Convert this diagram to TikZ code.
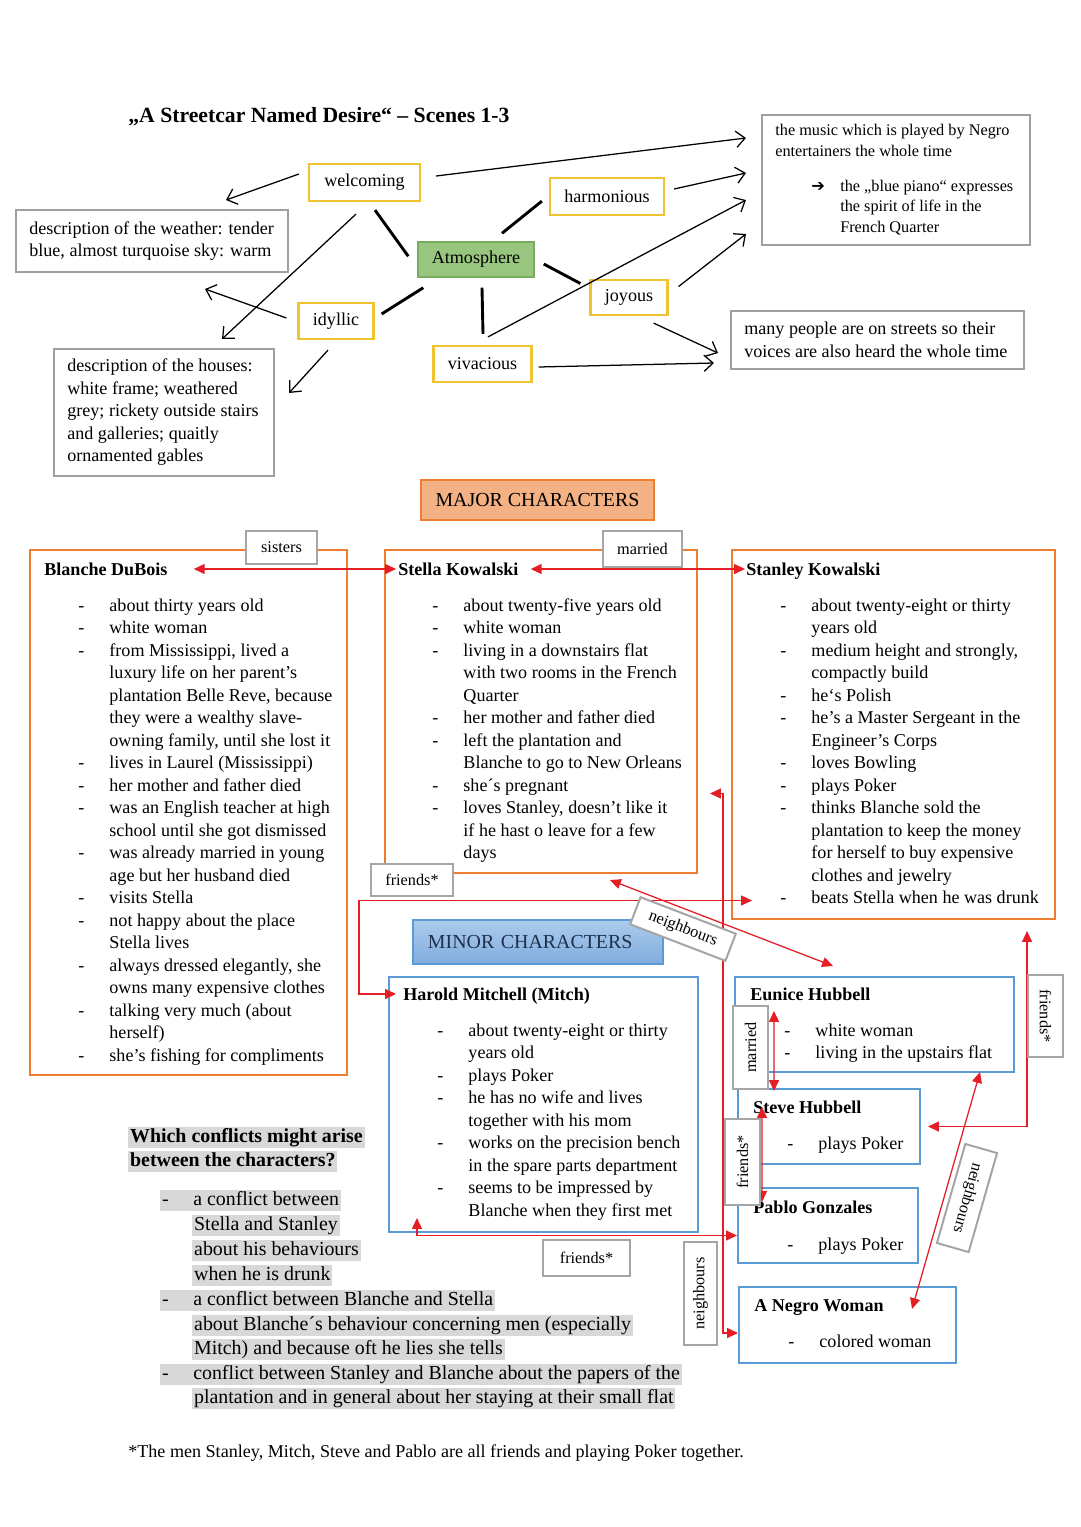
\documentclass[tikz,border=0pt]{standalone}
\usepackage{fontspec}
\setmainfont{Liberation Serif}
\newfontfamily\symbolfont{DejaVu Sans}
\usetikzlibrary{arrows.meta,calc}

\definecolor{adjgold}{RGB}{240,195,50}
\definecolor{atmofill}{RGB}{152,198,126}
\definecolor{atmoline}{RGB}{120,172,95}
\definecolor{boxgray}{RGB}{160,160,160}
\definecolor{taggray}{RGB}{165,165,165}
\definecolor{majorline}{RGB}{237,125,49}
\definecolor{majorfill}{RGB}{244,177,131}
\definecolor{minorline}{RGB}{91,155,213}
\definecolor{minortop}{RGB}{172,204,236}
\definecolor{minorbot}{RGB}{128,172,222}
\definecolor{minortext}{RGB}{30,48,78}
\definecolor{relred}{RGB}{228,30,36}
\definecolor{hlgray}{RGB}{216,216,216}

\newcommand{\charitems}[1]{\begin{tabular}[t]{@{}p{17.2pt}@{}l@{}}#1\end{tabular}}

\tikzset{
  boxsize/.style 2 args={minimum width=#1*0.5532pt, minimum height=#2*0.5532pt},
  adjective/.style={draw=adjgold, line width=1.2pt, inner sep=0pt, font=\fontsize{10}{12}\selectfont},
  atmos/.style={draw=atmoline, fill=atmofill, line width=0.8pt, inner sep=0pt, font=\fontsize{10}{12}\selectfont},
  infobox/.style={draw=boxgray, line width=1.1pt, inner sep=0pt},
  infotext/.style={anchor=west, inner sep=0pt, align=left, font=\fontsize{10}{12.45}\selectfont},
  link/.style={line width=1.6pt},
  pointer/.style={line width=0.7pt, -{Straight Barb[length=5pt,width=9pt]}},
  majorbox/.style={draw=majorline, line width=1.1pt},
  minorbox/.style={draw=minorline, line width=1.1pt},
  charname/.style={anchor=base west, inner sep=0pt, font=\fontsize{10}{12}\selectfont\bfseries},
  charlist/.style={anchor=base west, inner sep=0pt, font=\fontsize{10}{12.45}\selectfont},
  tag/.style={draw=taggray, line width=1.1pt, fill=white, inner sep=0pt, font=\fontsize{9}{11}\selectfont},
  rel/.style={draw=relred, line width=0.7pt, {Triangle[length=6pt,width=5.5pt]}-{Triangle[length=6pt,width=5.5pt]}},
  hl/.style={fill=hlgray, anchor=base west, inner xsep=1pt, inner ysep=0pt, text height=8.3pt, text depth=3.3pt, font=\fontsize{11}{13}\selectfont},
}

\begin{document}
\begin{tikzpicture}[x=0.019444cm, y=-0.019444cm]
  \path[use as bounding box, fill=white] (0,0) rectangle (1080,1527);

  % Title
  \node[anchor=base west, inner sep=0pt, font=\fontsize{12}{14}\selectfont\bfseries] (title) at (128,122) {„A Streetcar Named Desire“ – Scenes 1-3};

  % Atmosphere and its adjectives
  \node[atmos, boxsize={116}{35}] (atmo) at (476,259.5) {Atmosphere};
  \node[adjective, boxsize={111}{37}] (welcoming) at (364.5,182.5) {welcoming};
  \node[adjective, boxsize={114}{37}] (harmonious) at (607,196.5) {harmonious};
  \node[adjective, boxsize={77}{35}] (joyous) at (629,297.5) {joyous};
  \node[adjective, boxsize={75}{36}] (idyllic) at (336,321) {idyllic};
  \node[adjective, boxsize={98}{36}] (vivacious) at (482.5,364) {vivacious};

  % Descriptions
  \node[infobox, boxsize={272}{62}] (weather) at (152,241) {};
  \node[infotext] (weatherText) at ($(weather.west)+(14,0)$) {description of the weather: tender\\blue, almost turquoise sky: warm};
  \node[infobox, boxsize={220}{127}] (houses) at (164,412.5) {};
  \node[infotext] (housesText) at ($(houses.west)+(14,0)$) {description of the houses:\\white frame; weathered\\grey; rickety outside stairs\\and galleries; quaitly\\ornamented gables};
  \node[infobox, boxsize={268}{130}] (music) at (896,180) {};
  \node[infotext, font=\fontsize{9}{11.5}\selectfont] (musicText) at ($(music.west)+(14,0)$) {\begin{tabular}{@{}p{19.9pt}@{}p{16pt}@{}l@{}}
    \multicolumn{3}{@{}l@{}}{the music which is played by Negro}\\
    \multicolumn{3}{@{}l@{}}{entertainers the whole time}\\[7.7pt]
    & {\symbolfont ➔} & the „blue piano“ expresses\\
    & & the spirit of life in the\\
    & & French Quarter
  \end{tabular}};
  \node[infobox, boxsize={293}{58}] (people) at (877.5,340) {};
  \node[infotext] (peopleText) at ($(people.west)+(14,0)$) {many people are on streets so their\\voices are also heard the whole time};

  % Links to the atmosphere
  \draw[link] ($(welcoming.south)+(10.5,8)$) -- ($(atmo.north west)+(-9,15)$);
  \draw[link] ($(atmo.north)+(26,-8)$) -- ($(harmonious.south west)+(-7,-15)$);
  \draw[link] ($(atmo.east)+(9,4.5)$) -- ($(joyous.west)+(-9,-14)$);
  \draw[link] ($(atmo.south west)+(6,10)$) -- ($(idyllic.east)+(7,-7)$);
  \draw[link] ($(atmo.south)+(6,10)$) -- ($(vivacious.north)+(0.5,-11)$);

  % Arrows to the descriptions
  \draw[pointer] ($(welcoming.west)+(-9,-8.5)$) -- ($(weather.north east)+(-63,-9)$);
  \draw[pointer] ($(welcoming.south)+(-8.5,12)$) -- ($(houses.north east)+(-53,-9)$);
  \draw[pointer] ($(welcoming.east)+(15,-6.5)$) -- ($(music.west)+(-15,-42)$);
  \draw[pointer] ($(harmonious.east)+(9,-7.5)$) -- ($(music.west)+(-15,-7)$);
  \draw[pointer] ($(vivacious.north)+(5.5,-8)$) -- ($(music.west)+(-15,20)$);
  \draw[pointer] ($(joyous.east)+(10,-11)$) -- ($(music.west)+(-15,54)$);
  \draw[pointer] ($(joyous.south east)+(-15,7)$) -- ($(people.west)+(-12,13)$);
  \draw[pointer] ($(vivacious.east)+(6,3)$) -- ($(people.west)+(-16,23)$);
  \draw[pointer] ($(idyllic.west)+(-11,-3)$) -- ($(weather.south)+(53,16)$);
  \draw[pointer] ($(idyllic.south)+(-8,10)$) -- ($(houses.east)+(14,-19.5)$);

  % Major characters
  \node[majorbox, fill=majorfill, line width=0.6pt, boxsize={233}{40}, font=\fontsize{11}{13}\selectfont] (major) at (537.5,500) {MAJOR CHARACTERS};
  \node[majorbox, boxsize={317}{525}] (blanche) at (188.5,812.5) {};
  \node[majorbox, boxsize={312}{323}] (stella) at (541,711.5) {};
  \node[majorbox, boxsize={323}{369}] (stanley) at (893.5,734.5) {};

  \node[charname] (blancheName) at (44,575) {Blanche DuBois};
  \node[charlist] (blancheList) at (78,611) {\charitems{
    - & about thirty years old\\
    - & white woman\\
    - & from Mississippi, lived a\\
      & luxury life on her parent’s\\
      & plantation Belle Reve, because\\
      & they were a wealthy slave-\\
      & owning family, until she lost it\\
    - & lives in Laurel (Mississippi)\\
    - & her mother and father died\\
    - & was an English teacher at high\\
      & school until she got dismissed\\
    - & was already married in young\\
      & age but her husband died\\
    - & visits Stella\\
    - & not happy about the place\\
      & Stella lives\\
    - & always dressed elegantly, she\\
      & owns many expensive clothes\\
    - & talking very much (about\\
      & herself)\\
    - & she’s fishing for compliments}};

  \node[charname] (stellaName) at (398,575) {Stella Kowalski};
  \node[charlist] (stellaList) at (432,611) {\charitems{
    - & about twenty-five years old\\
    - & white woman\\
    - & living in a downstairs flat\\
      & with two rooms in the French\\
      & Quarter\\
    - & her mother and father died\\
    - & left the plantation and\\
      & Blanche to go to New Orleans\\
    - & she´s pregnant\\
    - & loves Stanley, doesn’t like it\\
      & if he hast o leave for a few\\
      & days}};

  \node[charname] (stanleyName) at (746,575) {Stanley Kowalski};
  \node[charlist] (stanleyList) at (780,611) {\charitems{
    - & about twenty-eight or thirty\\
      & years old\\
    - & medium height and strongly,\\
      & compactly build\\
    - & he‘s Polish\\
    - & he’s a Master Sergeant in the\\
      & Engineer’s Corps\\
    - & loves Bowling\\
    - & plays Poker\\
    - & thinks Blanche sold the\\
      & plantation to keep the money\\
      & for herself to buy expensive\\
      & clothes and jewelry\\
    - & beats Stella when he was drunk}};

  % Minor characters
  \node[minorbox, top color=minortop, bottom color=minorbot, draw=minorline, line width=0.6pt, boxsize={250}{44}, text width=121.7pt, align=left, text=minortext, font=\fontsize{11}{13}\selectfont] (minor) at (538,942) {MINOR CHARACTERS};
  \node[minorbox, boxsize={309}{255}] (mitch) at (543.5,1104.5) {};
  \node[minorbox, boxsize={279}{95}] (eunice) at (874.5,1024.5) {};
  \node[minorbox, boxsize={182}{75}] (steve) at (829,1126.5) {};
  \node[minorbox, boxsize={180}{75}] (pablo) at (828,1225.5) {};
  \node[minorbox, boxsize={217}{76}] (negro) at (847.5,1325) {};

  \node[charname] (mitchName) at (403,1000) {Harold Mitchell (Mitch)};
  \node[charlist] (mitchList) at (437,1036) {\charitems{
    - & about twenty-eight or thirty\\
      & years old\\
    - & plays Poker\\
    - & he has no wife and lives\\
      & together with his mom\\
    - & works on the precision bench\\
      & in the spare parts department\\
    - & seems to be impressed by\\
      & Blanche when they first met}};
  \node[charname] (euniceName) at (750,1000) {Eunice Hubbell};
  \node[charlist] (euniceList) at (784,1036) {\charitems{
    - & white woman\\
    - & living in the upstairs flat}};
  \node[charname] (steveName) at (753,1113) {Steve Hubbell};
  \node[charlist] (steveList) at (787,1149) {\charitems{- & plays Poker}};
  \node[charname] (pabloName) at (753,1213) {Pablo Gonzales};
  \node[charlist] (pabloList) at (787,1250) {\charitems{- & plays Poker}};
  \node[charname] (negroName) at (754,1311) {A Negro Woman};
  \node[charlist] (negroList) at (788,1347) {\charitems{- & colored woman}};

  % Relations
  \draw[rel] ($(blancheName.base east)+(26,-6)$) -- ($(stellaName.base west)+(-2,-6)$);
  \draw[rel] ($(stellaName.base east)+(12,-6)$) -- ($(stanleyName.base west)+(-1,-6)$);
  \draw[rel] ($(stella.east)+(12,82)$) -- ++(13,0) |- ($(negro.west)+(0,8)$);
  \draw[rel] ($(mitchName.base west)+(-7,-6)$) -- ++(-37,0) |- ($(stanley.west)+(21,166)$);
  \draw[rel] ($(stella.south)+(69,6)$) -- ($(eunice.north)+(-41.5,-10)$);
  \draw[rel] ($(eunice.south west)+(40,-62)$) -- ($(steve.north west)+(37,3)$);
  \draw[rel] ($(steve.north west)+(25,19)$) -- ($(pablo.north west)+(25,15)$);
  \draw[rel] ($(stanley.south east)+(-29,11)$) |- ($(steve.east)+(7,0)$);
  \draw[rel] ($(mitch.south west)+(29,-15)$) |- ($(pablo.west)+(0,10)$);
  \draw[rel] ($(eunice.south east)+(-35,-1)$) -- ($(negro.north east)+(-45,23)$);

  % Relation labels
  \node[tag, boxsize={71}{33}] (sisters) at (281.5,547.5) {sisters};
  \node[tag, boxsize={79}{36}] (marriedKowalski) at (642.5,549) {married};
  \node[tag, boxsize={82}{32}] (friendsMitch) at (412,880) {friends*};
  \node[tag, boxsize={102}{29}, rotate=-21] (neighEunice) at (683,929) {neighbours};
  \node[tag, boxsize={83}{35}, rotate=90] (marriedHubbell) at (750.5,1047.5) {married};
  \node[tag, boxsize={86}{35}, rotate=90] (friendsSteve) at (742.5,1162) {friends*};
  \node[tag, boxsize={82}{35}, rotate=-90] (friendsStanley) at (1045.5,1016) {friends*};
  \node[tag, boxsize={103}{33}, rotate=-106] (neighNegro) at (967,1198) {neighbours};
  \node[tag, boxsize={87}{36}] (friendsPablo) at (586.5,1258) {friends*};
  \node[tag, boxsize={103}{33}, rotate=90] (neighStella) at (700.5,1293.5) {neighbours};

  % Conflicts
  \node[hl, font=\fontsize{11}{13}\selectfont\bfseries] (question1) at (128,1142) {Which conflicts might arise};
  \node[hl, font=\fontsize{11}{13}\selectfont\bfseries] (question2) at (128,1166) {between the characters?};
  \node[hl] (conflict1) at (160,1205) {\makebox[17.2pt][l]{-}a conflict between};
  \node[hl] (conflict1b) at (192,1230) {Stella and Stanley};
  \node[hl] (conflict1c) at (192,1255) {about his behaviours};
  \node[hl] (conflict1d) at (192,1280) {when he is drunk};
  \node[hl] (conflict2) at (160,1305) {\makebox[17.2pt][l]{-}a conflict between Blanche and Stella};
  \node[hl] (conflict2b) at (192,1330) {about Blanche´s behaviour concerning men (especially};
  \node[hl] (conflict2c) at (192,1354) {Mitch) and because oft he lies she tells};
  \node[hl] (conflict3) at (160,1379) {\makebox[17.2pt][l]{-}conflict between Stanley and Blanche about the papers of the};
  \node[hl] (conflict3b) at (192,1403) {plantation and in general about her staying at their small flat};

  % Footnote
  \node[anchor=base west, inner sep=0pt, font=\fontsize{10}{12}\selectfont] (footnote) at (128,1457) {*The men Stanley, Mitch, Steve and Pablo are all friends and playing Poker together.};
\end{tikzpicture}
\end{document}
